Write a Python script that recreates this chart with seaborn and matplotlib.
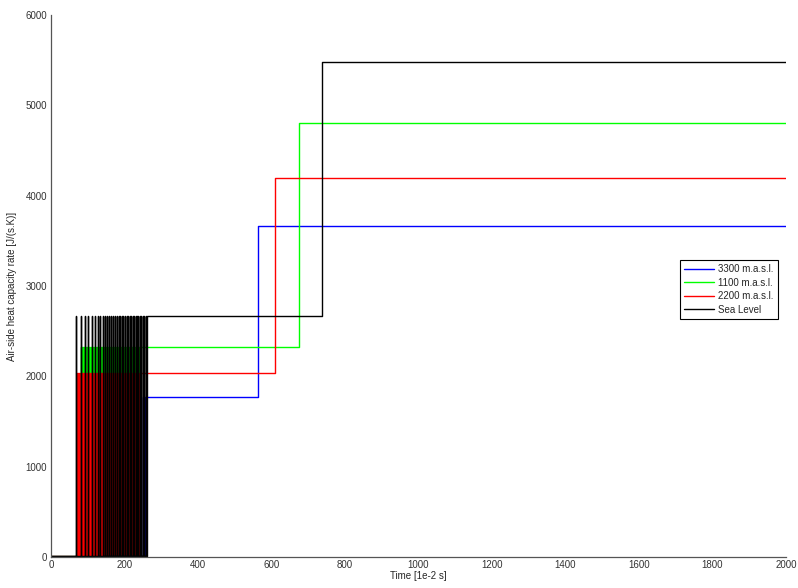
import numpy as np
import pandas as pd
import seaborn as sns
import matplotlib
matplotlib.use("Agg")
import matplotlib.pyplot as plt

# Series (time in 1e-2 s, rate in J/(s.K))
SERIES = ["3300 m.a.s.l.", "1100 m.a.s.l.", "2200 m.a.s.l.", "Sea Level"]
COLORS = ["#0000ff", "#00ff00", "#ff0000", "#000000"]
BASE_LEVEL = 15
LOW_LEVELS = [1770, 2330, 2040, 2668]
HIGH_LEVELS = [3660, 4800, 4200, 5480]
SETTLE_TIMES = [256, 242, 240, 261]
STEP_TIMES = [563, 675, 610, 737]
END_TIME = 2000
SPIKE_WIDTHS = [0, 0, 0, 0]

# chattering spikes before settling
BLUE_SPIKES = [73, 96, 118, 141, 150, 163, 177, 190, 204, 218, 231, 245]
GREEN_SPIKES = [81, 83, 86, 88, 91, 94, 96, 99, 101, 104, 107, 109, 112, 114,
                117, 120, 122, 125, 127, 130, 133, 135, 138, 140, 143, 146,
                148, 151, 153, 156, 159, 161, 164, 166, 169, 172, 174, 177,
                179, 182, 185, 187, 190, 192, 195, 198, 200, 203, 205, 208,
                211, 213, 216, 218, 221, 224, 226, 229, 231, 234, 237, 239, 242]
RED_SPIKES = [71, 73, 76, 78, 81, 84, 86, 89, 91, 94, 96, 99, 102, 104, 107,
              109, 112, 115, 117, 120, 122, 125, 128, 130, 133, 135, 138, 141,
              143, 146, 148, 151, 154, 156, 159, 161, 164, 167, 169, 172, 174,
              177, 180, 182, 185, 187, 190, 193, 195, 198, 200, 203, 206, 208,
              211, 213, 216, 219, 221, 224, 226, 229, 232, 234, 237, 240]
BLACK_SPIKES = [68, 81, 92, 102, 112, 121, 128, 134, 141, 147, 153, 159, 164,
                169, 174, 179, 184, 188, 193, 197, 201, 206, 210, 214, 218,
                222, 226, 230, 234, 238, 242, 246, 250, 254, 258]
SPIKES = [BLUE_SPIKES, GREEN_SPIKES, RED_SPIKES, BLACK_SPIKES]


def build_frame():
    rows = []
    for name, spikes, w, low, high, settle, step in zip(
            SERIES, SPIKES, SPIKE_WIDTHS, LOW_LEVELS, HIGH_LEVELS,
            SETTLE_TIMES, STEP_TIMES):
        pts = [(0, BASE_LEVEL)]
        for t in spikes:
            pts += [(t, BASE_LEVEL), (t, low), (t + w, low), (t + w, BASE_LEVEL)]
        pts += [(settle, BASE_LEVEL), (settle, low), (step, low),
                (step, high), (END_TIME, high)]
        rows += [(name, t, v) for t, v in pts]
    return pd.DataFrame(rows, columns=["series", "t", "v"])


df = build_frame()

sns.set_style("white")
plt.rcParams["font.family"] = ["Liberation Sans", "DejaVu Sans"]

fig = plt.figure(figsize=(7.98, 5.88), dpi=100)
ax = fig.add_axes([51 / 798, 31 / 588, 735 / 798, 542 / 588])

sns.lineplot(data=df, x="t", y="v", hue="series", hue_order=SERIES,
             palette=COLORS, sort=False, estimator=None, linewidth=1.0,
             ax=ax)

ax.set_xlim(0, 2000)
ax.set_ylim(0, 6000)
ax.set_xticks(np.arange(0, 2001, 200))
ax.set_yticks(np.arange(0, 6001, 1000))
ax.tick_params(axis="both", direction="in", labelsize=7, colors="#333333",
               width=0.8)
ax.tick_params(axis="y", length=5, pad=3)
ax.tick_params(axis="x", length=3, pad=2)
ax.set_xlabel("Time [1e-2 s]", fontsize=7, labelpad=1)
ax.set_ylabel("Air-side heat capacity rate [J/(s.K)]", fontsize=7, labelpad=6)

sns.despine(ax=ax)
for side in ["left", "bottom"]:
    ax.spines[side].set_color("#555555")
    ax.spines[side].set_linewidth(0.9)

handles, labels = ax.get_legend_handles_labels()
leg = ax.legend(handles, labels, loc="upper left",
                bbox_to_anchor=(629 / 735, 297 / 542), borderaxespad=0,
                fontsize=7, frameon=True, fancybox=False, framealpha=1,
                edgecolor="black", handlelength=3.0, labelspacing=0.35,
                borderpad=0.45, handletextpad=0.5)
leg.get_frame().set_linewidth(0.8)

fig.savefig("out.png", dpi=100)
